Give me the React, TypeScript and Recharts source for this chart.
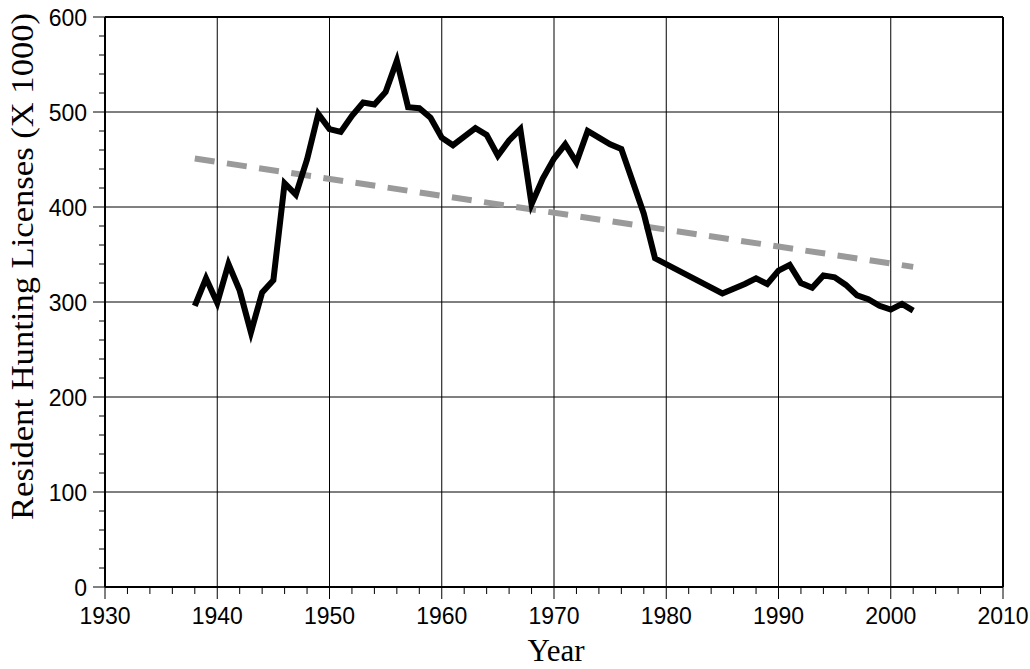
import React from "react";
import { LineChart, Line, XAxis, YAxis, ReferenceLine } from "recharts";

const years = [
  1938, 1939, 1940, 1941, 1942, 1943, 1944, 1945, 1946, 1947, 1948, 1949,
  1950, 1951, 1952, 1953, 1954, 1955, 1956, 1957, 1958, 1959, 1960, 1961,
  1962, 1963, 1964, 1965, 1966, 1967, 1968, 1969, 1970, 1971, 1972, 1973,
  1974, 1975, 1976, 1977, 1978, 1979, 1985, 1986, 1987, 1988, 1989, 1990,
  1991, 1992, 1993, 1994, 1995, 1996, 1997, 1998, 1999, 2000, 2001, 2002,
];
const licenses = [
  296, 325, 299, 340, 312, 268, 310, 323, 425, 413, 450, 498,
  482, 479, 496, 510, 508, 521, 554, 505, 504, 494, 473, 465,
  474, 483, 476, 454, 470, 482, 403, 430, 451, 466, 447, 480,
  473, 466, 461, 427, 393, 346, 309, 314, 319, 325, 319, 333,
  339, 320, 315, 328, 326, 318, 307, 303, 296, 292, 298, 291,
];
const trendYears = [1938, 2002];
const trendValues = [451, 337];

const xTicks: number[] = [];
for (let v = 1930; v <= 2010; v += 2) xTicks.push(v);
const yTicks: number[] = [];
for (let v = 0; v <= 600; v += 20) yTicks.push(v);
const xGrid = [1940, 1950, 1960, 1970, 1980, 1990, 2000];
const yGrid = [100, 200, 300, 400, 500];

const mainData = years.map((y, i) => ({ year: y, value: licenses[i] }));
const trendData = trendYears.map((y, i) => ({ year: y, value: trendValues[i] }));

const SANS = "Arial, 'Liberation Sans', sans-serif";
const SERIF = "'Times New Roman', 'Liberation Serif', serif";

const XTick = (props: any) => {
  const { x, y, payload } = props;
  const v = payload.value;
  const major = v % 10 === 0;
  return (
    <g>
      <line x1={x} x2={x} y1={y} y2={y + (major ? 12 : 7)} stroke="#000" strokeWidth={1} />
      {major && (
        <text x={x} y={y + 37} textAnchor="middle" fontFamily={SANS} fontSize={23} fill="#000">
          {v}
        </text>
      )}
    </g>
  );
};

const YTick = (props: any) => {
  const { x, y, payload } = props;
  const v = payload.value;
  const major = v % 100 === 0;
  return (
    <g>
      <line x1={x - (major ? 12 : 6)} x2={x} y1={y} y2={y} stroke="#000" strokeWidth={1} />
      {major && (
        <text x={x - 18} y={y + 8.5} textAnchor="end" fontFamily={SANS} fontSize={23} fill="#000">
          {v}
        </text>
      )}
    </g>
  );
};

export default function App() {
  return (
    <div style={{ position: "absolute", left: 0, top: 0, width: 1030, height: 669, background: "#fff" }}>
      <LineChart
        width={1030}
        height={669}
        margin={{ top: 17, right: 27, left: 0, bottom: 0 }}
      >
        <XAxis
          dataKey="year"
          type="number"
          domain={[1930, 2010]}
          ticks={xTicks}
          interval={0}
          allowDataOverflow
          height={82}
          tickSize={0}
          tickMargin={0}
          tickLine={false}
          tick={<XTick />}
          axisLine={{ stroke: "#000", strokeWidth: 2 }}
        />
        <YAxis
          type="number"
          domain={[0, 600]}
          ticks={yTicks}
          interval={0}
          allowDataOverflow
          width={105}
          tickSize={0}
          tickMargin={0}
          tickLine={false}
          tick={<YTick />}
          axisLine={{ stroke: "#000", strokeWidth: 2 }}
        />
        {xGrid.map((g) => (
          <ReferenceLine key={"x" + g} x={g} stroke="#000" strokeWidth={1} />
        ))}
        {yGrid.map((g) => (
          <ReferenceLine key={"y" + g} y={g} stroke="#000" strokeWidth={1} />
        ))}
        <ReferenceLine y={600} stroke="#000" strokeWidth={2} />
        <ReferenceLine x={2010} stroke="#000" strokeWidth={2} />
        <Line
          data={trendData}
          dataKey="value"
          type="linear"
          stroke="#9a9a9a"
          strokeWidth={6}
          strokeDasharray="20 12.5"
          dot={false}
          activeDot={false}
          isAnimationActive={false}
        />
        <Line
          data={mainData}
          dataKey="value"
          type="linear"
          stroke="#000"
          strokeWidth={6}
          dot={false}
          activeDot={false}
          isAnimationActive={false}
        />
      </LineChart>
      <svg
        width={1030}
        height={669}
        style={{ position: "absolute", left: 0, top: 0, pointerEvents: "none" }}
      >
        <text
          transform="translate(33,266.5) rotate(-90)"
          textAnchor="middle"
          fontFamily={SERIF}
          fontSize={31}
          textLength={507}
          lengthAdjust="spacingAndGlyphs"
          fill="#000"
        >
          Resident Hunting Licenses (X 1000)
        </text>
        <text x={556} y={661} textAnchor="middle" fontFamily={SERIF} fontSize={31} fill="#000">
          Year
        </text>
      </svg>
    </div>
  );
}
